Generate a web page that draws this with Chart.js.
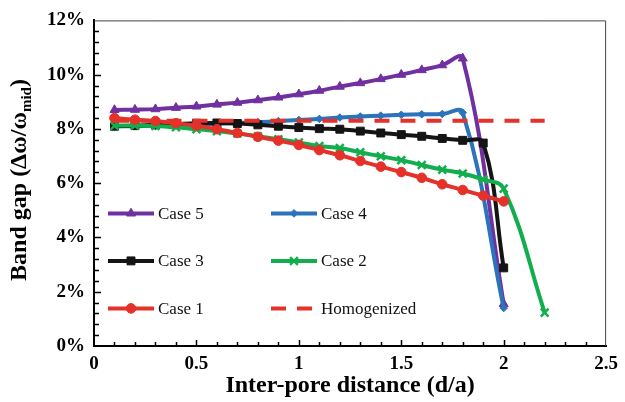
<!DOCTYPE html>
<html>
<head>
<meta charset="utf-8">
<script src="https://cdn.jsdelivr.net/npm/chart.js@4.4.0/dist/chart.umd.min.js"></script>
<style>
  html, body { margin: 0; padding: 0; background: #fff; }
  #wrap { width: 625px; height: 402px; position: relative; }
</style>
</head>
<body>
<div id="wrap"><canvas id="bandGapChart"></canvas></div>
<script>
// inter-pore distance d/a
const distance = [0.1, 0.2, 0.3, 0.4, 0.5, 0.6, 0.7, 0.8, 0.9, 1.0, 1.1,
                  1.2, 1.3, 1.4, 1.5, 1.6, 1.7, 1.8, 1.9, 2.0, 2.1, 2.2];

// band gap in % (null = not computed)
const case5 = [8.70, 8.71, 8.73, 8.78, 8.83, 8.90, 8.97, 9.06, 9.16, 9.28, 9.41,
               9.56, 9.69, 9.84, 10.00, 10.17, 10.35, 10.60, null, 1.55, null, null];
const case4 = [8.10, 8.10, 8.11, 8.13, 8.16, 8.19, 8.22, 8.25, 8.29, 8.33, 8.37,
               8.42, 8.46, 8.49, 8.52, 8.54, 8.55, 8.60, null, 1.40, null, null];
const case3 = [8.10, 8.12, 8.15, 8.18, 8.21, 8.22, 8.20, 8.15, 8.10, 8.05, 8.01,
               7.99, 7.92, 7.85, 7.79, 7.73, 7.65, 7.58, 7.48, 2.88, null, null];
const case2 = [8.12, 8.13, 8.11, 8.06, 7.99, 7.92, 7.83, 7.73, 7.62, 7.50, 7.37,
               7.30, 7.14, 6.99, 6.85, 6.67, 6.50, 6.36, 6.14, 5.80, null, 1.23];
const case1 = [8.40, 8.34, 8.29, 8.21, 8.12, 7.99, 7.85, 7.71, 7.57, 7.41, 7.22,
               7.03, 6.82, 6.61, 6.41, 6.20, 5.96, 5.75, 5.54, 5.33, null, null];
const homogenized = [8.30, 8.30, 8.30, 8.30, 8.30, 8.30, 8.30, 8.30, 8.30, 8.30, 8.30,
                     8.30, 8.30, 8.30, 8.30, 8.30, 8.30, 8.30, 8.30, 8.30, 8.30, 8.30];

const xTicks = [0, 0.5, 1, 1.5, 2, 2.5];
const yTicks = [0, 2, 4, 6, 8, 10, 12];

function toPoints(values) {
  const pts = [];
  values.forEach((v, i) => { if (v !== null) pts.push({ x: distance[i], y: v }); });
  return pts;
}

function series(label, values, color, pointStyle, radius, order) {
  return {
    label: label,
    data: toPoints(values),
    borderColor: color,
    backgroundColor: color,
    borderWidth: 4,
    tension: 0.4,
    pointStyle: pointStyle,
    pointRadius: radius,
    pointBackgroundColor: color,
    pointBorderColor: color,
    pointBorderWidth: pointStyle === 'crossRot' ? 2.5 : 1,
    order: order
  };
}

const serif = '"Liberation Serif", "Times New Roman", serif';

// inward tick marks + top/right frame
const frameTicks = {
  id: 'frameTicks',
  beforeDatasetsDraw(chart) {
    const { ctx, chartArea: a, scales: { x, y } } = chart;
    ctx.save();
    ctx.strokeStyle = '#444';
    ctx.lineWidth = 1;
    ctx.beginPath();
    ctx.moveTo(a.left, a.top + 0.5);
    ctx.lineTo(a.right - 0.5, a.top + 0.5);
    ctx.lineTo(a.right - 0.5, a.bottom);
    ctx.stroke();

    ctx.strokeStyle = '#000';
    ctx.lineWidth = 1.5;
    ctx.beginPath();
    for (let i = 1; i < 25; i++) {
      const px = Math.round(x.getPixelForValue(i / 10)) + 0.5;
      const len = i % 5 === 0 ? 6 : 4;
      ctx.moveTo(px, a.bottom);
      ctx.lineTo(px, a.bottom - len);
    }
    for (let i = 1; i < 30; i++) {
      const py = Math.round(y.getPixelForValue(i * 0.4)) + 0.5;
      const len = i % 5 === 0 ? 7 : 5;
      ctx.moveTo(a.left, py);
      ctx.lineTo(a.left + len, py);
    }
    ctx.stroke();
    ctx.restore();
  }
};

// two-column legend inside the plot, plus the y title with subscript
const cornerLegend = {
  id: 'cornerLegend',
  afterDraw(chart) {
    const { ctx, chartArea: a } = chart;
    ctx.save();
    ctx.font = '17px ' + serif;
    ctx.textBaseline = 'middle';
    ctx.fillStyle = '#111';
    chart.data.datasets.forEach((ds, i) => {
      const col = i % 2, row = Math.floor(i / 2);
      const x0 = a.left + 14 + col * 163;
      const y0 = a.top + 193 + row * 47.5;
      ctx.strokeStyle = ds.borderColor;
      ctx.lineWidth = ds.borderWidth;
      ctx.setLineDash(ds.borderDash || []);
      ctx.beginPath();
      ctx.moveTo(x0, y0);
      ctx.lineTo(x0 + 46, y0);
      ctx.stroke();
      ctx.setLineDash([]);
      if (ds.pointRadius > 0) {
        ctx.fillStyle = ds.pointBackgroundColor;
        ctx.strokeStyle = ds.pointBorderColor;
        ctx.lineWidth = ds.pointBorderWidth;
        Chart.helpers.drawPoint(ctx, { pointStyle: ds.pointStyle, radius: ds.pointRadius, borderWidth: ds.pointBorderWidth, rotation: 0 }, x0 + 23, y0);
      }
      ctx.fillStyle = '#111';
      ctx.fillText(ds.label, x0 + 50, y0 + 1);
    });
    ctx.restore();

    // y axis title
    ctx.save();
    ctx.translate(19, 180);
    ctx.rotate(-Math.PI / 2);
    ctx.fillStyle = '#000';
    ctx.textBaseline = 'alphabetic';
    const main = 'Band gap (\u0394\u03C9/\u03C9', sub = 'mid', tail = ')';
    const bigFont = 'bold 24px ' + serif, smallFont = 'bold 15px ' + serif;
    ctx.font = bigFont;
    const wMain = ctx.measureText(main).width, wTail = ctx.measureText(tail).width;
    ctx.font = smallFont;
    const wSub = ctx.measureText(sub).width;
    let tx = -(wMain + wSub + wTail) / 2;
    ctx.font = bigFont;
    ctx.fillText(main, tx, 7);
    tx += wMain;
    ctx.font = smallFont;
    ctx.fillText(sub, tx, 12);
    tx += wSub;
    ctx.font = bigFont;
    ctx.fillText(tail, tx, 7);
    ctx.restore();
  }
};

new Chart('bandGapChart', {
  type: 'line',
  data: {
    datasets: [
      series('Case 5', case5, '#7030A0', 'triangle', 5.2, 5),
      series('Case 4', case4, '#2B73BA', 'rectRot', 3.8, 4),
      series('Case 3', case3, '#141414', 'rect', 5.6, 3),
      series('Case 2', case2, '#12AE4E', 'crossRot', 5.5, 2),
      series('Case 1', case1, '#E4322B', 'circle', 4.8, 1),
      Object.assign(series('Homogenized', homogenized, '#E4322B', 'circle', 0, 0),
                    { borderDash: [15, 11], tension: 0 })
    ]
  },
  options: {
    responsive: true,
    maintainAspectRatio: false,
    animation: false,
    layout: { padding: { top: 20, right: 13, left: 0, bottom: 0 } },
    plugins: {
      legend: { display: false },
      tooltip: { enabled: false }
    },
    scales: {
      x: {
        type: 'linear',
        min: 0,
        max: 2.5,
        afterBuildTicks: (s) => { s.ticks = xTicks.map(v => ({ value: v })); },
        afterFit: (s) => { s.height = 56; },
        grid: { display: false, drawTicks: false },
        border: { display: true, color: '#000', width: 2 },
        ticks: {
          padding: 7,
          color: '#000',
          font: { family: serif, size: 19, weight: 'bold' },
          callback: (v) => String(v)
        },
        title: {
          display: true,
          text: 'Inter-pore distance (d/a)',
          color: '#000',
          padding: { top: 0, bottom: 2 },
          font: { family: serif, size: 24, weight: 'bold' }
        }
      },
      y: {
        min: 0,
        max: 12,
        afterBuildTicks: (s) => { s.ticks = yTicks.map(v => ({ value: v })); },
        afterFit: (s) => { s.width = 94; },
        grid: { display: false, drawTicks: false },
        border: { display: true, color: '#000', width: 2 },
        ticks: {
          padding: 9,
          color: '#000',
          font: { family: serif, size: 19, weight: 'bold' },
          callback: (v) => v + '%'
        }
      }
    }
  },
  plugins: [frameTicks, cornerLegend]
});
</script>
</body>
</html>
